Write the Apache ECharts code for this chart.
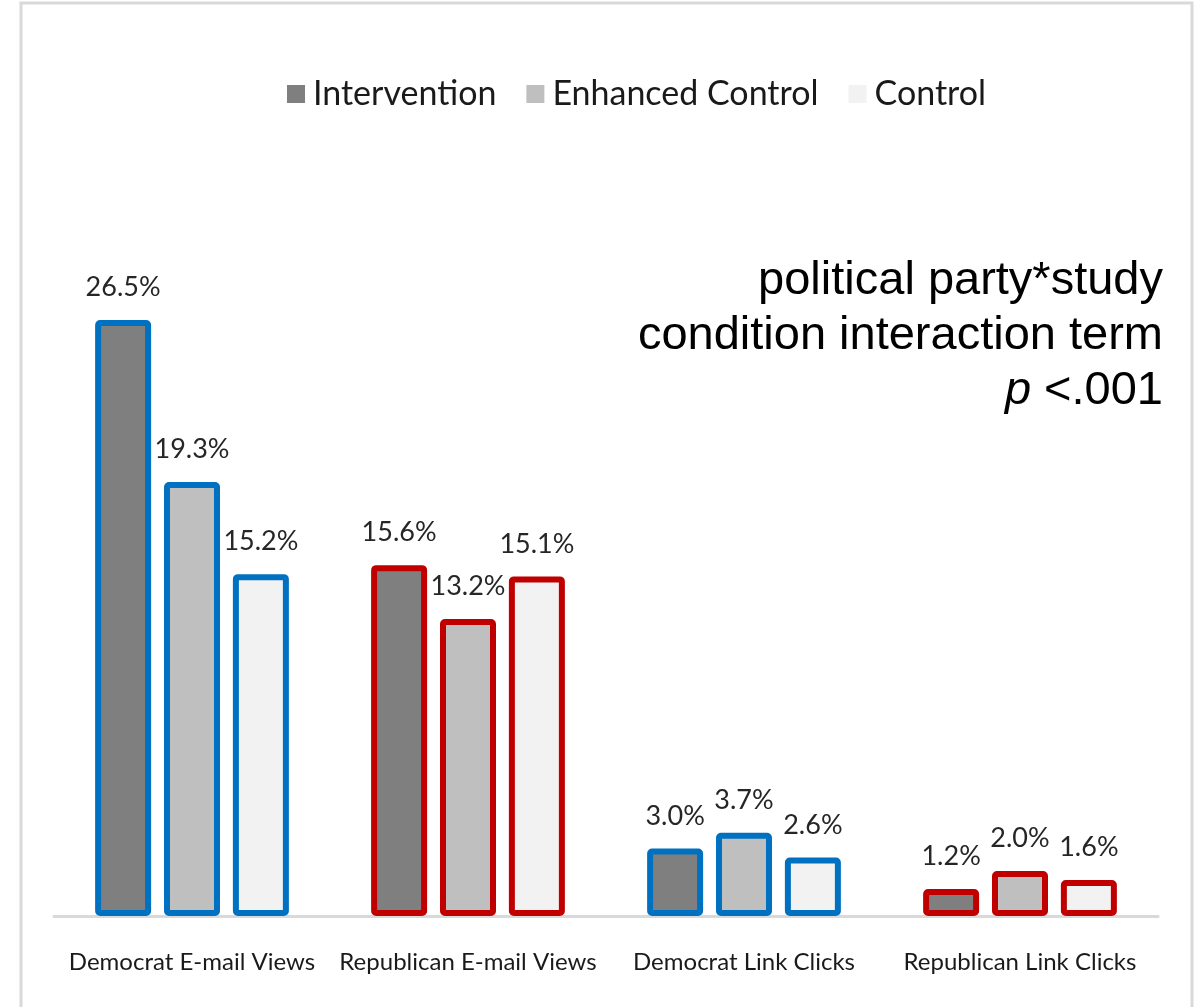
<!DOCTYPE html>
<html>
<head>
<meta charset="utf-8">
<script src="https://cdn.jsdelivr.net/npm/echarts@6/dist/echarts.min.js"></script>
<style>
  html, body { margin: 0; padding: 0; background: #fff; }
  #main { width: 1199px; height: 1007px; }
</style>
</head>
<body>
<div id="main"></div>
<script>
var categories = ['Democrat E-mail Views', 'Republican E-mail Views', 'Democrat Link Clicks', 'Republican Link Clicks'];
var seriesNames = ['Intervention', 'Enhanced Control', 'Control'];
var intervention = [26.5, 15.6, 3.0, 1.2];
var enhancedControl = [19.3, 13.2, 3.7, 2.0];
var control = [15.2, 15.1, 2.6, 1.6];

var fills = ['#7f7f7f', '#bfbfbf', '#f2f2f2'];
var partyBorder = ['#0070c0', '#c00000', '#0070c0', '#c00000'];
var labelFont = 'Lato, "Noto Sans", sans-serif';
var noteFont = '47px "Liberation Sans", Arial, sans-serif';

var myChart = echarts.init(document.getElementById('main'));

function makeSeries(name, values, fill) {
  return {
    name: name,
    type: 'bar',
    barWidth: 56,
    barGap: '23%',
    itemStyle: { color: fill },
    label: {
      show: true,
      position: 'top',
      distance: 19,
      color: '#262626',
      fontFamily: labelFont,
      fontSize: 27,
      formatter: function (p) { return p.value.toFixed(1) + '%'; }
    },
    data: values.map(function (v, i) {
      return {
        value: v,
        itemStyle: { borderColor: partyBorder[i], borderWidth: 6, borderRadius: 2 }
      };
    })
  };
}

var option = {
  backgroundColor: '#fff',
  animation: false,
  legend: {
    data: seriesNames,
    left: 282,
    top: 72,
    itemWidth: 18,
    itemHeight: 18,
    itemGap: 30,
    icon: 'rect',
    itemStyle: { borderWidth: 0 },
    textStyle: { fontFamily: labelFont, fontSize: 34, color: '#1a1a1a', padding: [0, 0, 0, 3] }
  },
  grid: { left: 54, right: 41, top: 248, bottom: 91 },
  xAxis: {
    type: 'category',
    data: categories,
    axisLine: { lineStyle: { color: '#d9d9d9', width: 3 } },
    axisTick: { show: false },
    axisLabel: { color: '#1a1a1a', fontFamily: labelFont, fontSize: 24, margin: 34, interval: 0 }
  },
  yAxis: {
    type: 'value',
    min: 0,
    max: 29.7,
    show: false
  },
  graphic: [
    {
      type: 'rect',
      shape: { x: 21, y: 3, width: 1171, height: 1020 },
      style: { fill: 'none', stroke: '#d9d9d9', lineWidth: 3 },
      silent: true
    },
    {
      type: 'text', x: 1163, y: 281,
      style: { text: 'political party*study', align: 'right', verticalAlign: 'middle', font: noteFont, fill: '#000' }
    },
    {
      type: 'text', x: 1163, y: 336,
      style: { text: 'condition interaction term', align: 'right', verticalAlign: 'middle', font: noteFont, fill: '#000' }
    },
    {
      type: 'text', x: 1163, y: 391,
      style: { text: '{i|p} <.001', align: 'right', verticalAlign: 'middle', font: noteFont, fill: '#000',
        rich: { i: { fontStyle: 'italic', fontSize: 47, fontFamily: '"Liberation Sans", Arial, sans-serif' } } }
    }
  ],
  series: [
    makeSeries(seriesNames[0], intervention, fills[0]),
    makeSeries(seriesNames[1], enhancedControl, fills[1]),
    makeSeries(seriesNames[2], control, fills[2])
  ]
};

myChart.setOption(option);
</script>
</body>
</html>
